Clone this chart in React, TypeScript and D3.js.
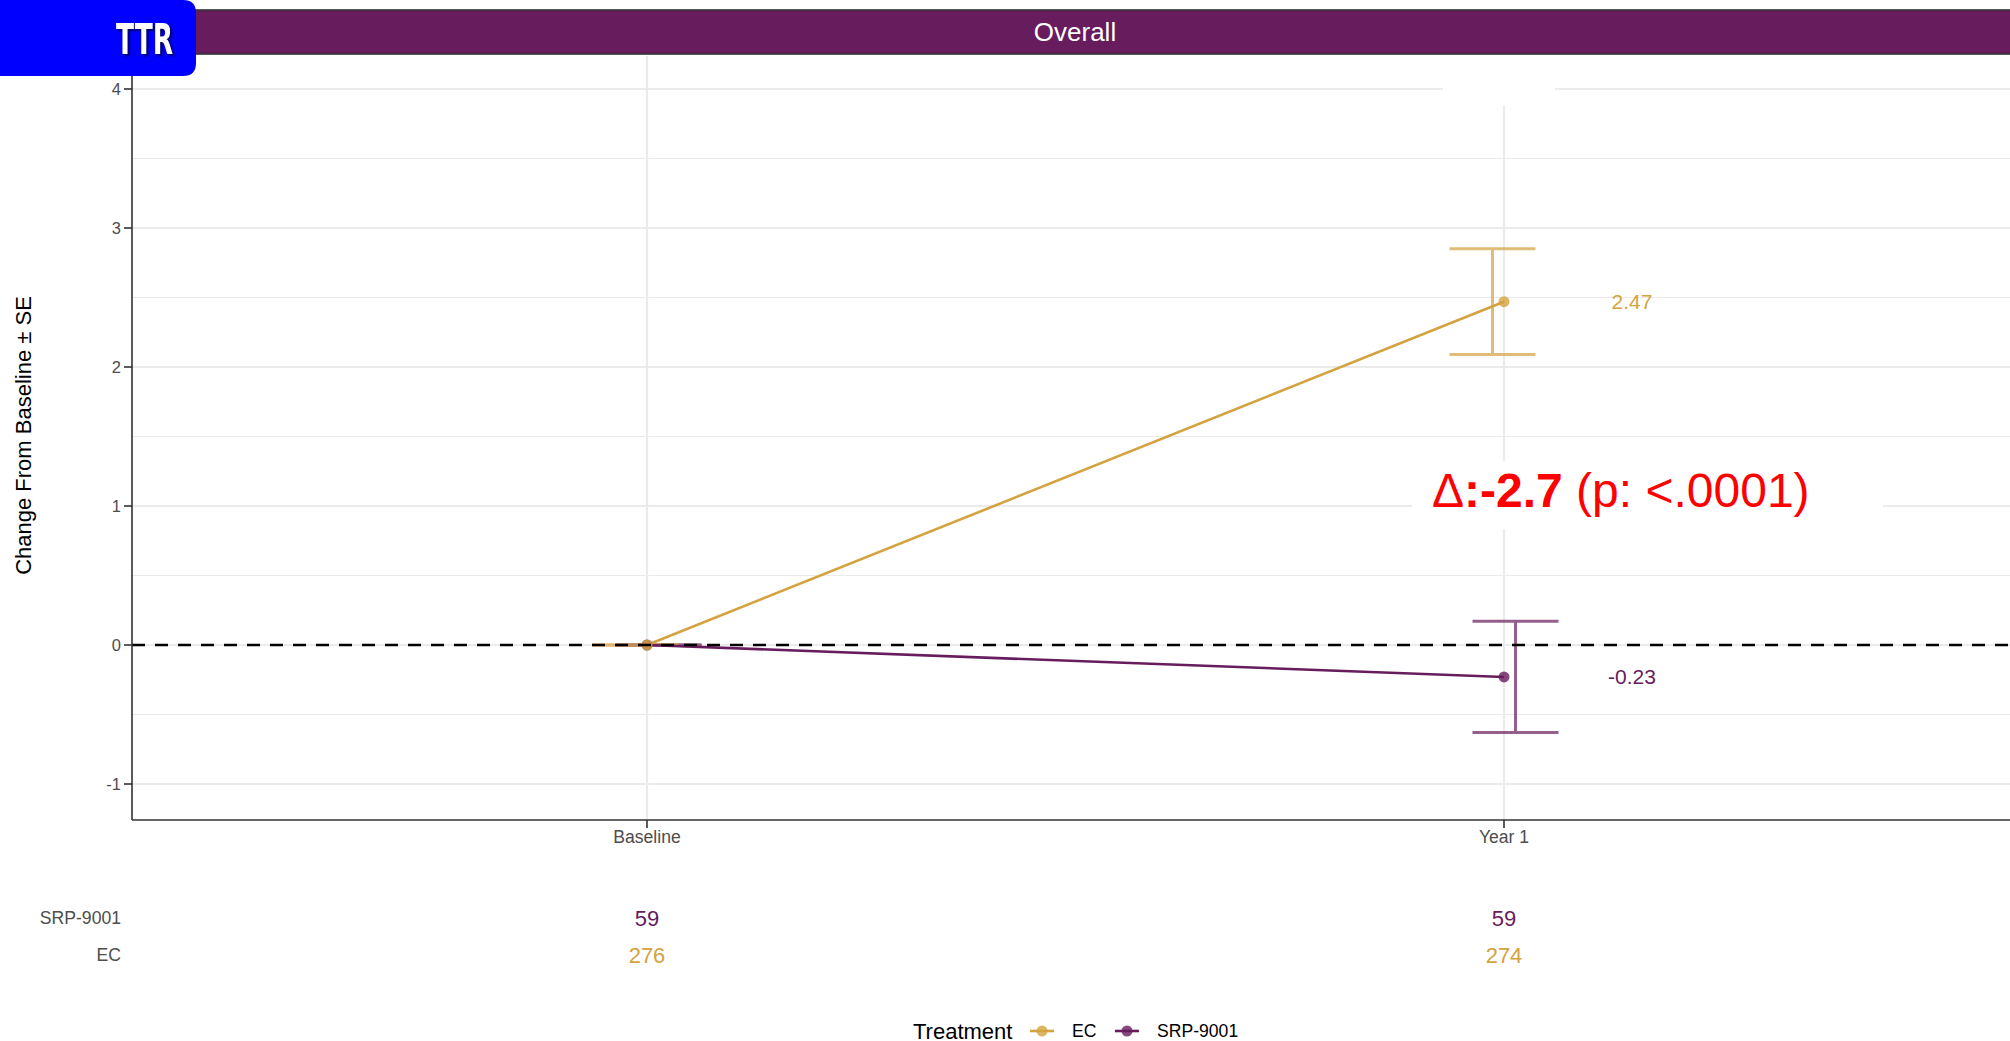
import { useEffect, useRef } from "react";
import * as d3 from "d3";

// Data
const timepoints = ["Baseline", "Year 1"];
const treatments = ["EC", "SRP-9001"];
const ecMean = [0, 2.47];
const ecSE = [0, 0.38];
const srpMean = [0, -0.23];
const srpSE = [0, 0.4];
const ecN = [276, 274];
const srpN = [59, 59];
const yTicks = [-1, 0, 1, 2, 3, 4];
const yMinor = [-0.5, 0.5, 1.5, 2.5, 3.5];
const deltaValue = "-2.7";
const pValue = "<.0001";

const EC_COL = "#D4A23E";
const SRP_COL = "#671C5E";
const FONT = "'Liberation Sans', Arial, sans-serif";

const App = () => {
  const ref = useRef<SVGSVGElement | null>(null);

  useEffect(() => {
    if (!ref.current) return;
    const W = 2010;
    const H = 1041;
    const panel = { left: 132, right: 2018, top: 56, bottom: 820 };

    const svg = d3.select(ref.current).html("").attr("width", W).attr("height", H);

    const x = d3.scalePoint<string>().domain(timepoints).range([647, 1504]);
    const y = d3.scaleLinear().domain([-1, 4]).range([784, 89]);
    const fmt = (v: number) => d3.format(".2f")(v).replace("−", "-");

    // clip for panel
    svg.append("defs").append("clipPath").attr("id", "panelClip")
      .append("rect")
      .attr("x", panel.left).attr("y", panel.top)
      .attr("width", panel.right - panel.left).attr("height", panel.bottom - panel.top);

    const g = svg.append("g").attr("clip-path", "url(#panelClip)");

    // Grid
    g.selectAll(".minor").data(yMinor).enter().append("line")
      .attr("x1", panel.left).attr("x2", panel.right)
      .attr("y1", (d) => y(d)).attr("y2", (d) => y(d))
      .attr("stroke", "#EBEBEB").attr("stroke-width", 1.1);
    g.selectAll(".major").data(yTicks).enter().append("line")
      .attr("x1", panel.left).attr("x2", panel.right)
      .attr("y1", (d) => y(d)).attr("y2", (d) => y(d))
      .attr("stroke", "#EBEBEB").attr("stroke-width", 2.2);
    g.selectAll(".vmajor").data(timepoints).enter().append("line")
      .attr("x1", (d) => x(d)!).attr("x2", (d) => x(d)!)
      .attr("y1", panel.top).attr("y2", panel.bottom)
      .attr("stroke", "#EBEBEB").attr("stroke-width", 2.2);

    // blank label box at top of Year 1
    const xY1 = x("Year 1")!;
    g.append("rect")
      .attr("x", xY1 - 61).attr("y", panel.top - 10)
      .attr("width", 112).attr("height", y(3.88) - panel.top + 10)
      .attr("fill", "white");

    // Delta label box
    g.append("rect")
      .attr("x", xY1 - 92).attr("y", y(1) - 45)
      .attr("width", 471).attr("height", 68)
      .attr("fill", "white");

    const series = [
      { name: "EC", mean: ecMean, se: ecSE, col: EC_COL, dodge: -11.5 },
      { name: "SRP-9001", mean: srpMean, se: srpSE, col: SRP_COL, dodge: 11.5 },
    ];
    const capW = 86;

    // Error bars (SRP first, EC on top)
    [series[1], series[0]].forEach((s) => {
      timepoints.forEach((t, i) => {
        const cx = x(t)! + s.dodge;
        const top = y(s.mean[i] + s.se[i]);
        const bot = y(s.mean[i] - s.se[i]);
        const eb = g.append("g").attr("stroke", s.col).attr("stroke-width", 3).attr("opacity", 0.7);
        eb.append("line").attr("x1", cx - capW / 2).attr("x2", cx + capW / 2).attr("y1", top).attr("y2", top);
        eb.append("line").attr("x1", cx - capW / 2).attr("x2", cx + capW / 2).attr("y1", bot).attr("y2", bot);
        eb.append("line").attr("x1", cx).attr("x2", cx).attr("y1", top).attr("y2", bot);
      });
    });

    // Lines
    const line = d3.line<number>()
      .x((_, i) => x(timepoints[i])!)
      .y((d) => y(d));
    [series[1], series[0]].forEach((s) => {
      g.append("path")
        .datum(s.mean)
        .attr("fill", "none")
        .attr("stroke", s.col)
        .attr("stroke-width", 2.6)
        .attr("d", line);
    });

    // Points
    [series[1], series[0]].forEach((s) => {
      g.selectAll(null).data(s.mean).enter().append("circle")
        .attr("cx", (_, i) => x(timepoints[i])!)
        .attr("cy", (d) => y(d))
        .attr("r", 5.5)
        .attr("fill", s.col)
        .attr("opacity", 0.8);
    });

    // Reference line at 0
    g.append("line")
      .attr("x1", panel.left).attr("x2", panel.right)
      .attr("y1", y(0)).attr("y2", y(0))
      .attr("stroke", "black").attr("stroke-width", 2.4)
      .attr("stroke-dasharray", "13,10");

    // Value labels at Year 1
    series.forEach((s) => {
      g.append("text")
        .attr("x", xY1 + 128)
        .attr("y", y(s.mean[1]))
        .attr("dy", "0.35em")
        .attr("text-anchor", "middle")
        .attr("fill", s.col)
        .style("font-family", FONT)
        .style("font-size", "21px")
        .text(fmt(s.mean[1]));
    });

    // Delta annotation
    const dt = g.append("text")
      .attr("x", xY1 - 72)
      .attr("y", y(1) + 1)
      .attr("fill", "#FF0000")
      .style("font-family", FONT)
      .style("font-size", "48px");
    dt.append("tspan").text("Δ");
    dt.append("tspan").attr("font-weight", "bold").text(":" + deltaValue);
    dt.append("tspan").text(" (p: " + pValue + ")");

    // Axes
    const axisCol = "#333333";
    svg.append("line")
      .attr("x1", panel.left).attr("x2", panel.left)
      .attr("y1", panel.top).attr("y2", panel.bottom)
      .attr("stroke", axisCol).attr("stroke-width", 1.6);
    svg.append("line")
      .attr("x1", panel.left).attr("x2", panel.right)
      .attr("y1", panel.bottom).attr("y2", panel.bottom)
      .attr("stroke", axisCol).attr("stroke-width", 1.6);

    svg.selectAll(".ytick").data(yTicks).enter().append("line")
      .attr("x1", panel.left - 8).attr("x2", panel.left)
      .attr("y1", (d) => y(d)).attr("y2", (d) => y(d))
      .attr("stroke", axisCol).attr("stroke-width", 1.6);
    svg.selectAll(".ylab").data(yTicks).enter().append("text")
      .attr("x", panel.left - 11)
      .attr("y", (d) => y(d))
      .attr("dy", "0.35em")
      .attr("text-anchor", "end")
      .attr("fill", "#4D4D4D")
      .style("font-family", FONT)
      .style("font-size", "16.5px")
      .text((d) => String(d));

    svg.selectAll(".xtick").data(timepoints).enter().append("line")
      .attr("x1", (d) => x(d)!).attr("x2", (d) => x(d)!)
      .attr("y1", panel.bottom).attr("y2", panel.bottom + 8)
      .attr("stroke", axisCol).attr("stroke-width", 1.6);
    svg.selectAll(".xlab").data(timepoints).enter().append("text")
      .attr("x", (d) => x(d)!)
      .attr("y", panel.bottom + 17)
      .attr("dy", "0.35em")
      .attr("text-anchor", "middle")
      .attr("fill", "#4D4D4D")
      .style("font-family", FONT)
      .style("font-size", "17.6px")
      .text((d) => d);

    // Y axis title
    svg.append("text")
      .attr("transform", `translate(23,${(y(4) + y(-1)) / 2 - 1}) rotate(-90)`)
      .attr("text-anchor", "middle")
      .attr("dy", "0.35em")
      .attr("fill", "black")
      .style("font-family", FONT)
      .style("font-size", "22px")
      .text("Change From Baseline ± SE");

    // Strip
    svg.append("rect")
      .attr("x", panel.left).attr("y", 10)
      .attr("width", panel.right - panel.left).attr("height", 44)
      .attr("fill", SRP_COL)
      .attr("stroke", "#333333").attr("stroke-width", 1.6);
    svg.append("text")
      .attr("x", (panel.left + panel.right) / 2)
      .attr("y", 32)
      .attr("dy", "0.35em")
      .attr("text-anchor", "middle")
      .attr("fill", "white")
      .style("font-family", FONT)
      .style("font-size", "26px")
      .text("Overall");

    // Numbers at risk table
    const rows = [
      { name: "SRP-9001", n: srpN, col: SRP_COL, yy: 918 },
      { name: "EC", n: ecN, col: EC_COL, yy: 955 },
    ];
    rows.forEach((r) => {
      svg.append("text")
        .attr("x", 121).attr("y", r.yy).attr("dy", "0.35em")
        .attr("text-anchor", "end").attr("fill", "#4D4D4D")
        .style("font-family", FONT).style("font-size", "17.6px")
        .text(r.name);
      svg.selectAll(null).data(r.n).enter().append("text")
        .attr("x", (_, i) => x(timepoints[i])!)
        .attr("y", r.yy).attr("dy", "0.35em")
        .attr("text-anchor", "middle").attr("fill", r.col)
        .style("font-family", FONT).style("font-size", "22px")
        .text((d) => String(d));
    });

    // Legend
    const ly = 1031;
    svg.append("text")
      .attr("x", 913).attr("y", ly).attr("dy", "0.35em")
      .attr("fill", "black")
      .style("font-family", FONT).style("font-size", "22px")
      .text("Treatment");
    const legendX = [1042, 1127];
    treatments.forEach((t, i) => {
      const col = t === "EC" ? EC_COL : SRP_COL;
      const lx = legendX[i];
      svg.append("line")
        .attr("x1", lx - 12).attr("x2", lx + 12)
        .attr("y1", ly).attr("y2", ly)
        .attr("stroke", col).attr("stroke-width", 2.6);
      svg.append("circle")
        .attr("cx", lx).attr("cy", ly).attr("r", 5.5)
        .attr("fill", col).attr("opacity", 0.8);
      svg.append("text")
        .attr("x", lx + 30).attr("y", ly).attr("dy", "0.35em")
        .attr("fill", "black")
        .style("font-family", FONT).style("font-size", "17.6px")
        .text(t);
    });

    // TTR badge
    const bw = 196, bh = 76, r = 13;
    svg.append("path")
      .attr("d", `M0,0 H${bw - r} Q${bw},0 ${bw},${r} V${bh - r} Q${bw},${bh} ${bw - r},${bh} H0 Z`)
      .attr("fill", "#0000FF");
    svg.append("text")
      .attr("x", 116).attr("y", 54)
      .attr("textLength", 57)
      .attr("lengthAdjust", "spacingAndGlyphs")
      .attr("fill", "white")
      .attr("font-weight", "bold")
      .style("font-family", "'DejaVu Sans Condensed', 'DejaVu Sans', sans-serif")
      .style("font-size", "42px")
      .style("filter", "drop-shadow(2px 2px 1px rgba(0,0,0,0.6))")
      .text("TTR");
  }, []);

  return (
    <div style={{ position: "absolute", left: 0, top: 0, width: 2010, height: 1041, background: "white" }}>
      <svg ref={ref} style={{ display: "block" }}></svg>
    </div>
  );
};

export default App;
